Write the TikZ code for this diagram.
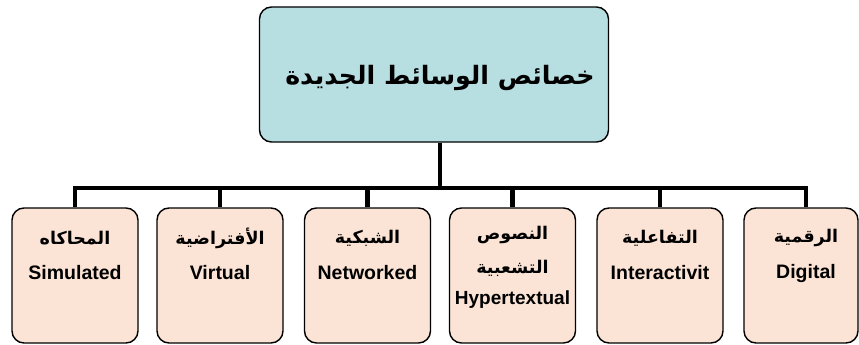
\documentclass[tikz,border=0pt]{standalone}
\usepackage{fontspec}
\setmainfont{Liberation Sans}
\newfontfamily\arabicfont[Script=Arabic]{DejaVu Sans}
\TeXXeTstate=1
\definecolor{topfill}{HTML}{B7DEE1}
\definecolor{boxfill}{HTML}{FBE4D5}
\begin{document}
\begin{tikzpicture}[x=1pt,y=-1pt,
  box/.style={draw=black, line width=1.4pt, rounded corners=12pt, inner sep=0pt},
  subbox/.style={box, fill=boxfill, minimum width=126pt, minimum height=135pt},
  conn/.style={line width=4.8pt, line join=miter},
  artitle/.style={font=\arabicfont\bfseries\fontsize{25.3}{30}\selectfont, inner sep=0pt},
  ar/.style={font=\arabicfont\bfseries\fontsize{17.5}{21}\selectfont, inner sep=0pt},
  en/.style={font=\bfseries\fontsize{19.5}{23}\selectfont, inner sep=0pt},
  ensmall/.style={font=\bfseries\fontsize{19}{22}\selectfont, inner sep=0pt}]
\useasboundingbox (0,0) rectangle (859,345);
% top box
\node[box, fill=topfill, minimum width=349pt, minimum height=135pt] (top) at (434,74.5) {};
\node[artitle] (title) at (440,78) {\beginR خصائص الوسائط الجديدة\endR};
% bottom boxes
\node[subbox] (b1) at (75,275.5) {};
\node[subbox] (b2) at (220,275.5) {};
\node[subbox] (b3) at (367.5,275.5) {};
\node[subbox] (b4) at (512.5,275.5) {};
\node[subbox] (b5) at (660,275.5) {};
\node[subbox, minimum width=114pt] (b6) at (801,275.5) {};
% texts
\node[ar] (a1) at (75,238) {\beginR المحاكاه\endR};
\node[en] (e1) at (75,273) {Simulated};
\node[ar] (a2) at (220,238) {\beginR الأفتراضية\endR};
\node[en] (e2) at (220,273) {Virtual};
\node[ar] (a3) at (367.5,238) {\beginR الشبكية\endR};
\node[en] (e3) at (367.5,273) {Networked};
\node[ar] (a4) at (512.5,235) {\beginR النصوص\endR};
\node[ar] (a4b) at (512.5,268) {\beginR التشعبية\endR};
\node[ensmall] (e4) at (512.5,300) {Hypertextual};
\node[ar] (a5) at (660,238) {\beginR التفاعلية\endR};
\node[en] (e5) at (660,273) {Interactivit};
\node[ar] (a6) at (806,238) {\beginR الرقمية\endR};
\node[en] (e6) at (806,273) {Digital};
% connectors
\coordinate (bus) at (440,188);
\coordinate (d6) at (806,188);
\draw[conn] (top.south -| bus) -- (bus);
\draw[conn] (b1.north) -- (b1.north |- bus) -- (d6) -- (d6 |- b6.north);
\draw[conn] (b2.north) -- (b2.north |- bus);
\draw[conn] (b3.north) -- (b3.north |- bus);
\draw[conn] (b4.north) -- (b4.north |- bus);
\draw[conn] (b5.north) -- (b5.north |- bus);
\end{tikzpicture}
\end{document}
